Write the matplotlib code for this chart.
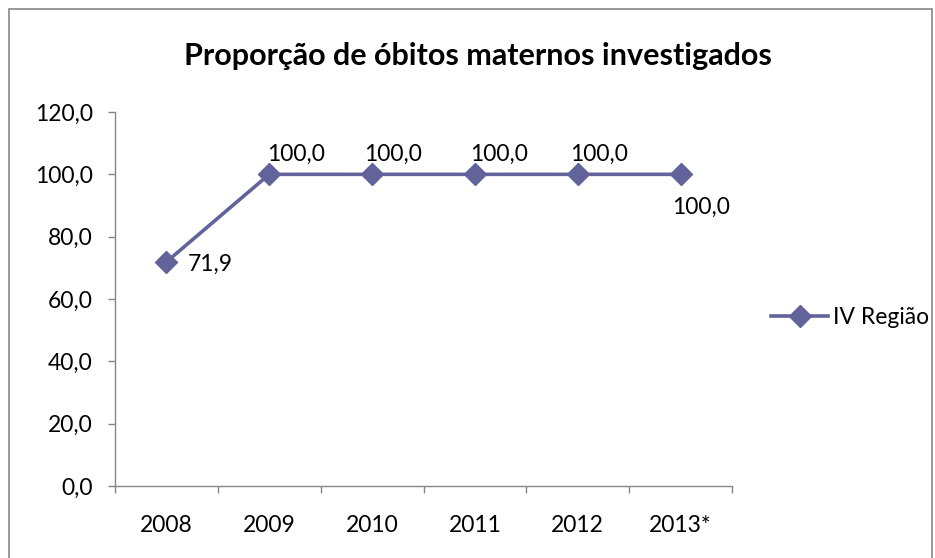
import matplotlib.pyplot as plt
from matplotlib.patches import Rectangle

# ========= DATA =========
YEARS = ["2008", "2009", "2010", "2011", "2012", "2013*"]
VALUES = [71.9, 100.0, 100.0, 100.0, 100.0, 100.0]
SERIES = "IV Região"
TITLE = "Proporção de óbitos maternos investigados"
# ========================

COLOR = "#62639B"
GREY = "#868686"
FONT = ["Lato", "DejaVu Sans"]
W, H = 935, 558


def fmt(v):
    return f"{v:.1f}".replace(".", ",")


def main():
    plt.rcParams["font.family"] = FONT
    fig = plt.figure(figsize=(W / 100, H / 100), dpi=100)

    # chart area border (bottom edge lies below the picture)
    fig.patches.append(Rectangle((9 / W, -0.05), (932 - 9) / W, 1.05 - 9 / H,
                                 transform=fig.transFigure, fill=False,
                                 edgecolor=GREY, linewidth=1.2))

    left, right, top, bottom = 115, 732, 112, 486
    ax = fig.add_axes([left / W, 1 - bottom / H, (right - left) / W, (bottom - top) / H])
    x = list(range(len(YEARS)))
    ax.plot(x, VALUES, color=COLOR, linewidth=2.6, marker="D", markersize=11,
            label=SERIES)

    ax.set_xlim(-0.5, len(YEARS) - 0.5)
    ax.set_ylim(0, 120)
    yt = [0, 20, 40, 60, 80, 100, 120]
    ax.set_yticks(yt)
    ax.set_yticklabels([fmt(v) for v in yt], fontsize=16.5)
    ax.set_xticks(x)
    ax.set_xticklabels(YEARS, fontsize=16.5)
    ax.tick_params(axis="x", length=0, pad=21)
    ax.tick_params(axis="y", length=5, width=1, color=GREY, pad=11, direction="out")
    ax.set_xticks([i - 0.5 for i in range(len(YEARS) + 1)], minor=True)
    ax.tick_params(axis="x", which="minor", length=5, width=1, color=GREY,
                   direction="out")

    for s in ["top", "right"]:
        ax.spines[s].set_visible(False)
    for s in ["left", "bottom"]:
        ax.spines[s].set_color(GREY)
        ax.spines[s].set_linewidth(1.0)

    # data labels: offsets in points from each marker
    offsets = [(15, -2, "center"), (-1.5, 7, "bottom"), (-5.5, 7, "bottom"),
               (-3.5, 7, "bottom"), (-5.5, 7, "bottom"), (-6, -16.5, "top")]
    for xi, v, (dx, dy, va) in zip(x, VALUES, offsets):
        ax.annotate(fmt(v), (xi, v), xytext=(dx, dy), textcoords="offset points",
                    ha="left", va=va, fontsize=16.5, annotation_clip=False)

    fig.text(478 / W, 1 - 56 / H, TITLE, ha="center", va="center", fontsize=22,
             fontweight="bold")

    ax.legend(loc="center left", bbox_to_anchor=(771 / W, 1 - 318 / H),
              bbox_transform=fig.transFigure, frameon=False, fontsize=16.5,
              handlelength=2.5, handletextpad=0.2, borderpad=0, borderaxespad=0)

    fig.savefig("out.png", dpi=100)


if __name__ == "__main__":
    main()
